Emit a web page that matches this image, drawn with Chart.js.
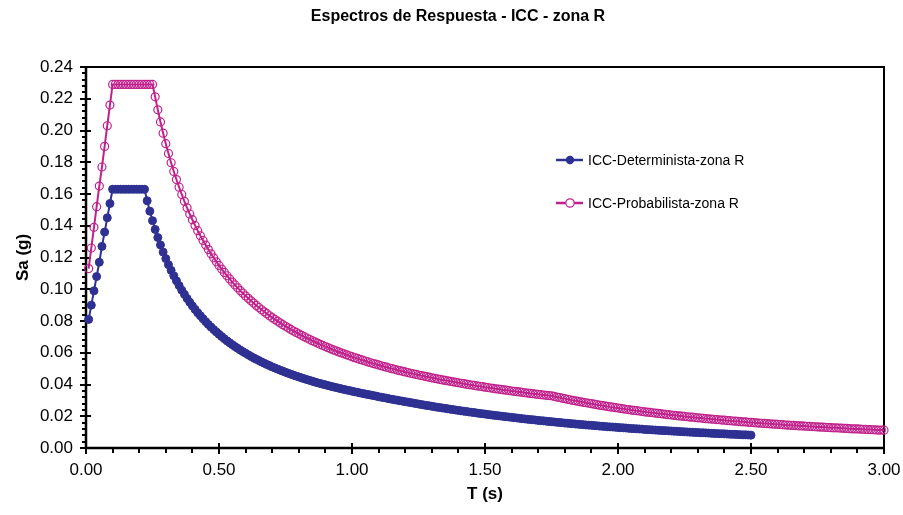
<!DOCTYPE html>
<html>
<head>
<meta charset="utf-8">
<script src="https://cdn.jsdelivr.net/npm/chart.js@4.4.1/dist/chart.umd.min.js"></script>
<style>
  html, body { margin: 0; padding: 0; background: #ffffff; }
  canvas { display: block; }
</style>
</head>
<body>
<canvas id="c" width="903" height="515"></canvas>
<script>
// Response spectra, ICC zone R: spectral acceleration Sa (g) against period T (s)
const chartTitle = 'Espectros de Respuesta - ICC - zona R';
const xTitle = 'T (s)';
const yTitle = 'Sa (g)';
const seriesNames = ['ICC-Determinista-zona R', 'ICC-Probabilista-zona R'];

// periods are sampled every 0.01 s starting at 0.01 s
const periodStart = 0.01;
const periodStep = 0.01;

// Deterministic spectrum, T = 0.01 ... 2.50 s
const saDeterminista = [
  0.081,0.090,0.099,0.108,0.117,0.127,0.136,0.145,0.154,0.163,
  0.163,0.163,0.163,0.163,0.163,0.163,0.163,0.163,0.163,0.163,
  0.163,0.163,0.1557,0.1492,0.1432,0.1377,0.1326,0.1279,0.1234,0.1193,
  0.1155,0.1119,0.1085,0.1053,0.1023,0.0994,0.0968,0.0942,0.0918,0.0895,
  0.0873,0.0852,0.0833,0.0814,0.0796,0.0778,0.0762,0.0746,0.0731,0.0716,
  0.0702,0.0688,0.0675,0.0663,0.0651,0.0639,0.0628,0.0617,0.0607,0.0597,
  0.0587,0.0577,0.0568,0.0559,0.0551,0.0542,0.0534,0.0526,0.0519,0.0511,
  0.0504,0.0497,0.0490,0.0484,0.0477,0.0471,0.0465,0.0459,0.0453,0.0448,
  0.0442,0.0437,0.0431,0.0426,0.0421,0.0416,0.0411,0.0407,0.0402,0.0398,
  0.0393,0.0389,0.0385,0.0381,0.0377,0.0373,0.0369,0.0365,0.0362,0.0358,
  0.0354,0.0351,0.0347,0.0344,0.0340,0.0337,0.0334,0.0330,0.0327,0.0323,
  0.0320,0.0317,0.0314,0.0310,0.0307,0.0304,0.0301,0.0298,0.0295,0.0292,
  0.0289,0.0286,0.0283,0.0280,0.0277,0.0274,0.0271,0.0268,0.0266,0.0263,
  0.0260,0.0257,0.0255,0.0252,0.0250,0.0247,0.0244,0.0242,0.0239,0.0237,
  0.0234,0.0232,0.0230,0.0227,0.0225,0.0223,0.0220,0.0218,0.0216,0.0214,
  0.0211,0.0209,0.0207,0.0205,0.0203,0.0201,0.0199,0.0197,0.0195,0.0193,
  0.0191,0.0189,0.0187,0.0185,0.0183,0.0181,0.0179,0.0178,0.0176,0.0174,
  0.0172,0.0171,0.0169,0.0167,0.0166,0.0164,0.0162,0.0161,0.0159,0.0157,
  0.0156,0.0154,0.0153,0.0151,0.0150,0.0148,0.0147,0.0145,0.0144,0.0143,
  0.0141,0.0140,0.0138,0.0137,0.0136,0.0134,0.0133,0.0132,0.0131,0.0129,
  0.0128,0.0127,0.0126,0.0124,0.0123,0.0122,0.0121,0.0120,0.0119,0.0117,
  0.0116,0.0115,0.0114,0.0113,0.0112,0.0111,0.0110,0.0109,0.0108,0.0107,
  0.0106,0.0105,0.0104,0.0103,0.0102,0.0101,0.0100,0.0099,0.0098,0.0097,
  0.0096,0.0096,0.0095,0.0094,0.0093,0.0092,0.0091,0.0090,0.0090,0.0089,
  0.0088,0.0087,0.0086,0.0086,0.0085,0.0084,0.0083,0.0083,0.0082,0.0081
];

// Probabilistic spectrum, T = 0.01 ... 3.00 s
const saProbabilista = [
  0.113,0.126,0.139,0.152,0.165,0.177,0.190,0.203,0.216,0.229,
  0.229,0.229,0.229,0.229,0.229,0.229,0.229,0.229,0.229,0.229,
  0.229,0.229,0.229,0.229,0.229,0.2212,0.2130,0.2054,0.1983,0.1917,
  0.1855,0.1797,0.1742,0.1691,0.1643,0.1597,0.1554,0.1513,0.1474,0.1438,
  0.1402,0.1369,0.1337,0.1307,0.1278,0.1250,0.1223,0.1198,0.1173,0.1150,
  0.1127,0.1106,0.1085,0.1065,0.1045,0.1027,0.1009,0.0991,0.0975,0.0958,
  0.0943,0.0927,0.0913,0.0898,0.0885,0.0871,0.0858,0.0846,0.0833,0.0821,
  0.0810,0.0799,0.0788,0.0777,0.0767,0.0757,0.0747,0.0737,0.0728,0.0719,
  0.0710,0.0701,0.0693,0.0685,0.0676,0.0669,0.0661,0.0653,0.0646,0.0639,
  0.0632,0.0625,0.0618,0.0612,0.0605,0.0599,0.0593,0.0587,0.0581,0.0575,
  0.0569,0.0564,0.0558,0.0553,0.0548,0.0542,0.0537,0.0532,0.0528,0.0523,
  0.0518,0.0513,0.0509,0.0504,0.0500,0.0496,0.0491,0.0487,0.0483,0.0479,
  0.0475,0.0471,0.0467,0.0464,0.0460,0.0456,0.0453,0.0449,0.0446,0.0442,
  0.0439,0.0436,0.0432,0.0429,0.0426,0.0423,0.0420,0.0417,0.0414,0.0411,
  0.0408,0.0405,0.0402,0.0399,0.0397,0.0394,0.0391,0.0389,0.0386,0.0383,
  0.0381,0.0378,0.0376,0.0373,0.0371,0.0369,0.0366,0.0364,0.0362,0.0359,
  0.0357,0.0355,0.0353,0.0351,0.0348,0.0346,0.0344,0.0342,0.0340,0.0338,
  0.0336,0.0334,0.0332,0.0330,0.0329,0.0325,0.0321,0.0318,0.0314,0.0311,
  0.0307,0.0304,0.0300,0.0297,0.0294,0.0291,0.0288,0.0285,0.0282,0.0279,
  0.0276,0.0273,0.0270,0.0267,0.0265,0.0262,0.0259,0.0257,0.0254,0.0252,
  0.0249,0.0247,0.0244,0.0242,0.0239,0.0237,0.0235,0.0233,0.0230,0.0228,
  0.0226,0.0224,0.0222,0.0220,0.0218,0.0216,0.0214,0.0212,0.0210,0.0208,
  0.0206,0.0204,0.0202,0.0201,0.0199,0.0197,0.0195,0.0194,0.0192,0.0190,
  0.0189,0.0187,0.0185,0.0184,0.0182,0.0181,0.0179,0.0178,0.0176,0.0175,
  0.0173,0.0172,0.0170,0.0169,0.0168,0.0166,0.0165,0.0164,0.0162,0.0161,
  0.0160,0.0158,0.0157,0.0156,0.0155,0.0154,0.0152,0.0151,0.0150,0.0149,
  0.0148,0.0147,0.0145,0.0144,0.0143,0.0142,0.0141,0.0140,0.0139,0.0138,
  0.0137,0.0136,0.0135,0.0134,0.0133,0.0132,0.0131,0.0130,0.0129,0.0128,
  0.0127,0.0127,0.0126,0.0125,0.0124,0.0123,0.0122,0.0121,0.0120,0.0120,
  0.0119,0.0118,0.0117,0.0116,0.0116,0.0115,0.0114,0.0113,0.0113,0.0112
];

// axis ranges and tick spacing
const xRange = [0, 3];
const xMajorStep = 0.5;
const xMinorStep = 0.1;
const yRange = [0, 0.24];
const yMajorStep = 0.02;
const yMinorStep = 0.004;

const colorDet = '#2E3192';
const colorProb = '#C0228C';
const FONT = '"Liberation Sans", Arial, Helvetica, sans-serif';

function toPoints(values) {
  return values.map((v, i) => ({ x: +(periodStart + i * periodStep).toFixed(2), y: v }));
}

// frame, tick marks, titles and legend drawn on the chart's own scales
const decorations = {
  id: 'decorations',
  beforeDatasetsDraw(chart) {
    const { ctx, chartArea: a, scales: { x, y } } = chart;
    ctx.save();
    ctx.strokeStyle = '#000';
    ctx.lineWidth = 2;
    ctx.strokeRect(a.left, a.top, a.right - a.left, a.bottom - a.top);
    ctx.lineWidth = 2.5;
    ctx.beginPath();
    ctx.moveTo(a.left, a.top); ctx.lineTo(a.left, a.bottom); ctx.lineTo(a.right, a.bottom);
    ctx.stroke();

    ctx.lineWidth = 2;
    ctx.beginPath();
    const nx = Math.round((xRange[1] - xRange[0]) / xMinorStep);
    const majorEveryX = Math.round(xMajorStep / xMinorStep);
    for (let i = 0; i <= nx; i++) {
      const px = Math.round(x.getPixelForValue(xRange[0] + i * xMinorStep));
      if (i % majorEveryX === 0) { ctx.moveTo(px, a.bottom - 5); ctx.lineTo(px, a.bottom + 6); }
      else { ctx.moveTo(px, a.bottom); ctx.lineTo(px, a.bottom + 5); }
    }
    const ny = Math.round((yRange[1] - yRange[0]) / yMinorStep);
    const majorEveryY = Math.round(yMajorStep / yMinorStep);
    for (let i = 0; i <= ny; i++) {
      const py = Math.round(y.getPixelForValue(yRange[0] + i * yMinorStep));
      if (i % majorEveryY === 0) { ctx.moveTo(a.left - 6, py); ctx.lineTo(a.left + 5, py); }
      else { ctx.moveTo(a.left - 4, py); ctx.lineTo(a.left, py); }
    }
    ctx.stroke();
    ctx.restore();
  },
  afterDraw(chart) {
    const { ctx, chartArea: a } = chart;
    ctx.save();
    ctx.fillStyle = '#000';
    ctx.textAlign = 'center';
    ctx.textBaseline = 'middle';
    ctx.font = 'bold 16px ' + FONT;
    ctx.fillText(chartTitle, 458, 17);
    ctx.font = 'bold 17px ' + FONT;
    ctx.fillText(xTitle, (a.left + a.right) / 2, 494);
    ctx.save();
    ctx.translate(23, (a.top + a.bottom) / 2);
    ctx.rotate(-Math.PI / 2);
    ctx.fillText(yTitle, 0, 0);
    ctx.restore();

    // legend
    const rows = [
      { y: 160, color: colorDet, filled: true, text: chart.data.datasets[0].label },
      { y: 203, color: colorProb, filled: false, text: chart.data.datasets[1].label }
    ];
    ctx.font = '14px ' + FONT;
    ctx.textAlign = 'left';
    rows.forEach(r => {
      ctx.strokeStyle = r.color;
      ctx.lineWidth = 2.5;
      ctx.beginPath(); ctx.moveTo(556, r.y); ctx.lineTo(583, r.y); ctx.stroke();
      ctx.beginPath(); ctx.arc(570, r.y, 4.2, 0, Math.PI * 2);
      if (r.filled) { ctx.fillStyle = r.color; ctx.fill(); }
      else { ctx.fillStyle = '#fff'; ctx.fill(); ctx.lineWidth = 1.2; ctx.stroke(); }
      ctx.fillStyle = '#000';
      ctx.fillText(r.text, 588, r.y + 1);
    });
    ctx.restore();
  }
};

new Chart(document.getElementById('c'), {
  type: 'line',
  data: {
    datasets: [
      {
        label: seriesNames[0],
        data: toPoints(saDeterminista),
        borderColor: colorDet,
        backgroundColor: colorDet,
        borderWidth: 2,
        pointRadius: 4,
        pointBorderWidth: 1,
        pointBackgroundColor: colorDet,
        pointBorderColor: colorDet,
        tension: 0,
        clip: false,
        order: 2
      },
      {
        label: seriesNames[1],
        data: toPoints(saProbabilista),
        borderColor: colorProb,
        backgroundColor: 'rgba(0,0,0,0)',
        borderWidth: 2,
        pointRadius: 4,
        pointBorderWidth: 1.2,
        pointBackgroundColor: 'rgba(0,0,0,0)',
        pointBorderColor: colorProb,
        tension: 0,
        clip: false,
        order: 1
      }
    ]
  },
  options: {
    responsive: false,
    animation: false,
    events: [],
    layout: { padding: { top: 67, right: 19, left: 0, bottom: 0 } },
    plugins: { legend: { display: false }, title: { display: false }, tooltip: { enabled: false } },
    scales: {
      x: {
        type: 'linear',
        min: xRange[0], max: xRange[1],
        grid: { display: false, drawTicks: false },
        border: { display: false },
        afterFit(s) { s.height = 67; s.paddingLeft = 0; s.paddingRight = 0; },
        ticks: {
          stepSize: xMajorStep, padding: 12, color: '#000',
          font: { family: FONT, size: 17 },
          maxRotation: 0,
          callback: v => Number(v).toFixed(2)
        }
      },
      y: {
        type: 'linear',
        min: yRange[0], max: yRange[1],
        grid: { display: false, drawTicks: false },
        border: { display: false },
        afterFit(s) { s.width = 86; s.paddingTop = 0; s.paddingBottom = 0; },
        ticks: {
          stepSize: yMajorStep, padding: 13, color: '#000',
          font: { family: FONT, size: 17 },
          callback: v => Number(v).toFixed(2)
        }
      }
    }
  },
  plugins: [decorations]
});
</script>
</body>
</html>
